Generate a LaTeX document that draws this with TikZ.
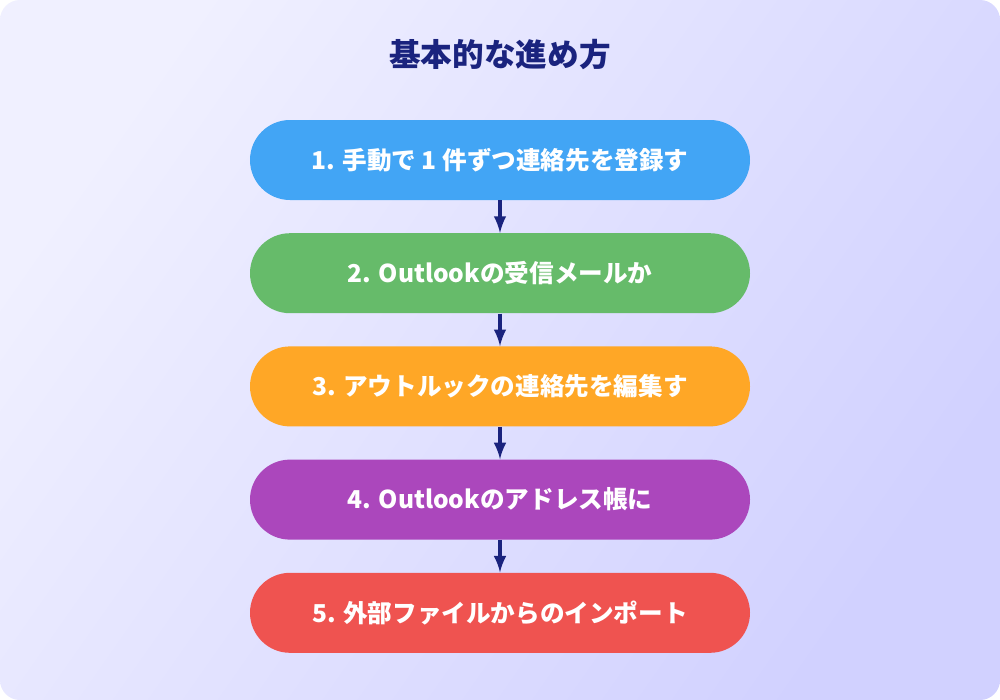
\documentclass[tikz,border=0pt]{standalone}
\usepackage{fontspec}
\setmainfont{Noto Sans CJK JP}
\usepackage{xcolor}
\usetikzlibrary{positioning}
\definecolor{titleblue}{HTML}{1A237E}
\definecolor{stepone}{HTML}{42A5F5}
\definecolor{steptwo}{HTML}{66BB6A}
\definecolor{stepthree}{HTML}{FFA726}
\definecolor{stepfour}{HTML}{AB47BC}
\definecolor{stepfive}{HTML}{EF5350}
\begin{document}
\begin{tikzpicture}[node distance=0.65cm, stepbox/.style={rectangle, text=white, font=\bfseries\fontsize{14}{16}\selectfont, minimum width=10cm, minimum height=1.6cm, rounded corners=0.8cm}, line/.style={draw=titleblue, line width=2.2pt, -latex}]
        \useasboundingbox (0,0) rectangle (20,-14);
        \fill[white] (0,0) rectangle (20,-14);
        \shade[rounded corners=0.4cm, left color=blue!6!white, right color=blue!18!white, shading angle=55] (0,0) rectangle (20,-14);
        % Title
        \node[text=titleblue, font=\bfseries\fontsize{18}{21}\selectfont] (title) at (10,-1.1) {基本的な進め方};
        % Nodes
        \node [stepbox, fill=stepone] (manual) at (10,-3.2) {1. 手動で 1 件ずつ連絡先を登録す};
        \node [stepbox, fill=steptwo, below=of manual] (mail) {2. Outlookの受信メールか};
        \node [stepbox, fill=stepthree, below=of mail] (edit) {3. アウトルックの連絡先を編集す};
        \node [stepbox, fill=stepfour, below=of edit] (book) {4. Outlookのアドレス帳に};
        \node [stepbox, fill=stepfive, below=of book] (import) {5. 外部ファイルからのインポート};
        % Arrows
        \path [line] (manual) -- (mail);
        \path [line] (mail) -- (edit);
        \path [line] (edit) -- (book);
        \path [line] (book) -- (import);
    \end{tikzpicture}
\end{document}
